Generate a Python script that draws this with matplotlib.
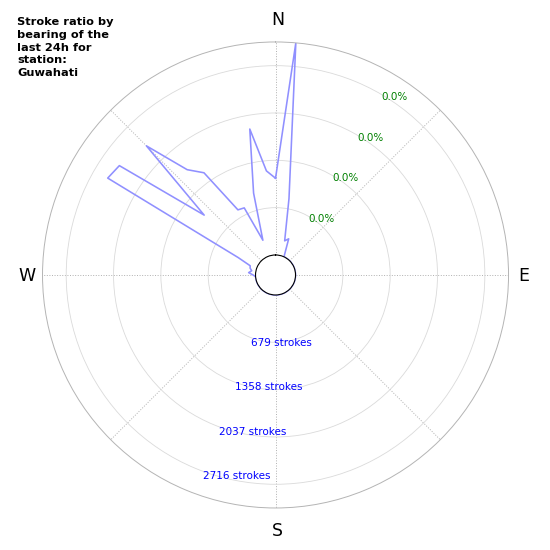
import numpy as np
import matplotlib
matplotlib.use("Agg")
import matplotlib.pyplot as plt

# stroke counts per 5 degree bearing bin (0 = North, clockwise)
BEARINGS = np.arange(0, 360, 5)
STROKES = [
    1101, 3056, 825, 220, 265,                      # 0 .. 20
    0, 0, 0, 0, 0, 0, 0, 0, 0, 0,                   # 25 .. 70
    0, 0, 0, 0, 0, 0, 0, 0, 0, 0,                   # 75 .. 120
    0, 0, 0, 0, 0, 0, 0, 0, 0, 0,                   # 125 .. 170
    0, 0, 0, 0, 0, 0, 0, 0, 0, 0,                   # 175 .. 220
    0, 0, 0, 0, 0, 0, 0, 0, 0,                      # 225 .. 265
    35, 100, 60, 90, 100, 304,                      # 270 .. 295
    2493, 2448, 1049, 2333, 1685, 1503,             # 300 .. 325
    792, 775, 243, 929, 1839, 1212,                 # 330 .. 355
]
RMAX = 3056
RING_TICKS = [679, 1358, 2037, 2716]
RING_LABELS = ["679 strokes", "1358 strokes", "2037 strokes", "2716 strokes"]
PCT_LABELS = ["0.0%", "0.0%", "0.0%", "0.0%"]
TITLE = "Stroke ratio by\nbearing of the\nlast 24h for\nstation:\nGuwahati"


def main():
    fig = plt.figure(figsize=(5.5, 5.5), dpi=100)
    ax = fig.add_axes([0.0773, 0.0764, 0.8473, 0.8473], projection="polar")
    ax.set_theta_zero_location("N")
    ax.set_theta_direction(-1)
    ax.set_rorigin(-287)
    ax.set_ylim(0, RMAX)

    ax.set_thetagrids(range(0, 360, 45), labels=[""] * 8)
    ax.set_rticks(RING_TICKS)
    ax.set_yticklabels([])
    ax.tick_params(length=0)
    ax.xaxis.grid(True, color="#b0b0b0", linestyle=":", linewidth=0.7)
    ax.yaxis.grid(True, color="#dadada", linestyle="-", linewidth=0.6)
    ax.spines["polar"].set_color("#b4b4b4")
    ax.spines["polar"].set_linewidth(0.7)
    ax.spines["inner"].set_color("black")
    ax.spines["inner"].set_linewidth(0.8)

    theta = np.deg2rad(np.append(BEARINGS, BEARINGS[0]))
    vals = np.append(STROKES, STROKES[0])
    ax.plot(theta, vals, color="#9090ff", linewidth=1.15)

    # ring annotations
    for tick, lab in zip(RING_TICKS, PCT_LABELS):
        ax.text(np.deg2rad(30.7), tick - 35, lab, color="green",
                fontsize=7.5, ha="left", va="center")
    for tick, lab in zip(RING_TICKS, RING_LABELS):
        ax.text(np.deg2rad(199.8), tick + 70, lab, color="blue",
                fontsize=7.5, ha="left", va="center")

    # compass letters
    for lab, x, y in [("N", 278.3, 20), ("E", 523.3, 276),
                      ("S", 277, 531), ("W", 27, 276)]:
        fig.text(x / 550, 1 - y / 550, lab, fontsize=12.5,
                 ha="center", va="center")

    fig.text(17 / 550, 1 - 17 / 550, TITLE, fontsize=8.2, fontweight="bold",
             ha="left", va="top", linespacing=1.35)

    fig.savefig("out.png", dpi=100)
    plt.close(fig)


if __name__ == "__main__":
    main()
